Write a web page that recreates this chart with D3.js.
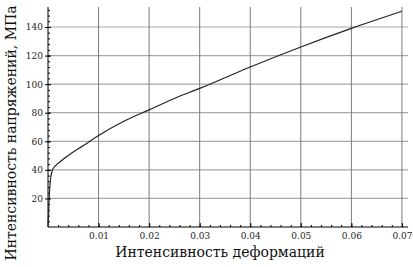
<!DOCTYPE html>
<html>
<head>
<meta charset="utf-8">
<script src="https://cdn.jsdelivr.net/npm/d3@7"></script>
<style>
  body { margin: 0; background: #fff; }
</style>
</head>
<body>
<div id="chart"></div>
<script>
// strain intensity vs stress intensity (MPa)
var strain = [0, 0.0001, 0.0002, 0.0004, 0.0006, 0.0009, 0.0015, 0.0025, 0.004, 0.007, 0.01, 0.015, 0.02, 0.025, 0.03, 0.04, 0.05, 0.06, 0.07];
var stress = [0, 8, 18, 30, 36, 40, 43, 46, 50, 57, 64, 74, 82, 90, 97, 112, 126, 139, 151];

var xTicks = [0.01, 0.02, 0.03, 0.04, 0.05, 0.06, 0.07];
var yTicks = [20, 40, 60, 80, 100, 120, 140];

var xTitle = 'Интенсивность деформаций';
var yTitle = 'Интенсивность напряжений, МПа';

var W = 413, H = 267;
var margin = {top: 7, right: 5, bottom: 40, left: 48};
var serif = '"DejaVu Serif", "Liberation Serif", serif';

var svg = d3.select('#chart').append('svg')
    .attr('width', W)
    .attr('height', H);

var x = d3.scaleLinear().domain([0, 0.0712]).range([margin.left, W - margin.right]);
var y = d3.scaleLinear().domain([0, 154]).range([H - margin.bottom, margin.top]);

// grid
svg.append('g').selectAll('line')
    .data(yTicks).enter().append('line')
    .attr('x1', x(0)).attr('x2', x(0.0712))
    .attr('y1', d => y(d)).attr('y2', d => y(d))
    .attr('stroke', '#a8a8a8').attr('stroke-width', 1.2);

svg.append('g').selectAll('line')
    .data(xTicks).enter().append('line')
    .attr('x1', d => x(d)).attr('x2', d => x(d))
    .attr('y1', y(0)).attr('y2', y(154))
    .attr('stroke', '#7a7a7a').attr('stroke-width', 1);

// axes with inward ticks
var xMinor = d3.range(0.002, 0.0711, 0.002);
var yMinor = d3.range(4, 153, 4);

var xAxis = svg.append('g').attr('transform', 'translate(0,' + y(0) + ')');
xAxis.call(d3.axisBottom(x).tickValues(xMinor).tickSize(-2).tickFormat(''));
xAxis.call(g => g.select('.domain').remove());
var xMaj = svg.append('g').attr('transform', 'translate(0,' + y(0) + ')')
    .call(d3.axisBottom(x).tickValues(xTicks).tickSize(-4).tickPadding(6).tickFormat(d3.format('.2f')));
xMaj.attr('font-family', serif);
xMaj.select('.domain').remove();
xMaj.selectAll('text').attr('font-size', 9).attr('fill', '#222');

var yAxis = svg.append('g').attr('transform', 'translate(' + x(0) + ',0)');
yAxis.call(d3.axisLeft(y).tickValues(yMinor).tickSize(-2).tickFormat(''));
yAxis.call(g => g.select('.domain').remove());
var yMaj = svg.append('g').attr('transform', 'translate(' + x(0) + ',0)')
    .call(d3.axisLeft(y).tickValues(yTicks).tickSize(4).tickPadding(1));
yMaj.attr('font-family', serif);
yMaj.select('.domain').remove();
yMaj.selectAll('line').attr('x2', 3).attr('x1', -3);
yMaj.selectAll('text').attr('font-size', 9).attr('fill', '#222');

svg.append('line')
    .attr('x1', x(0)).attr('x2', x(0.0712))
    .attr('y1', y(0)).attr('y2', y(0))
    .attr('stroke', '#000');
svg.append('line')
    .attr('x1', x(0)).attr('x2', x(0))
    .attr('y1', y(0)).attr('y2', y(154))
    .attr('stroke', '#000');

// curve
var pts = strain.map((s, i) => [s, stress[i]]);
svg.append('path')
    .datum(pts)
    .attr('fill', 'none')
    .attr('stroke', '#222')
    .attr('stroke-width', 1.2)
    .attr('d', d3.line().x(d => x(d[0])).y(d => y(d[1])).curve(d3.curveMonotoneX));

// titles
svg.append('text')
    .attr('x', 220).attr('y', 257)
    .attr('text-anchor', 'middle')
    .attr('font-family', serif)
    .attr('font-size', 14)
    .attr('fill', '#111')
    .text(xTitle);

svg.append('text')
    .attr('transform', 'translate(16,' + 133 + ') rotate(-90)')
    .attr('text-anchor', 'middle')
    .attr('font-family', serif)
    .attr('font-size', 14)
    .attr('fill', '#111')
    .text(yTitle);
</script>
</body>
</html>
